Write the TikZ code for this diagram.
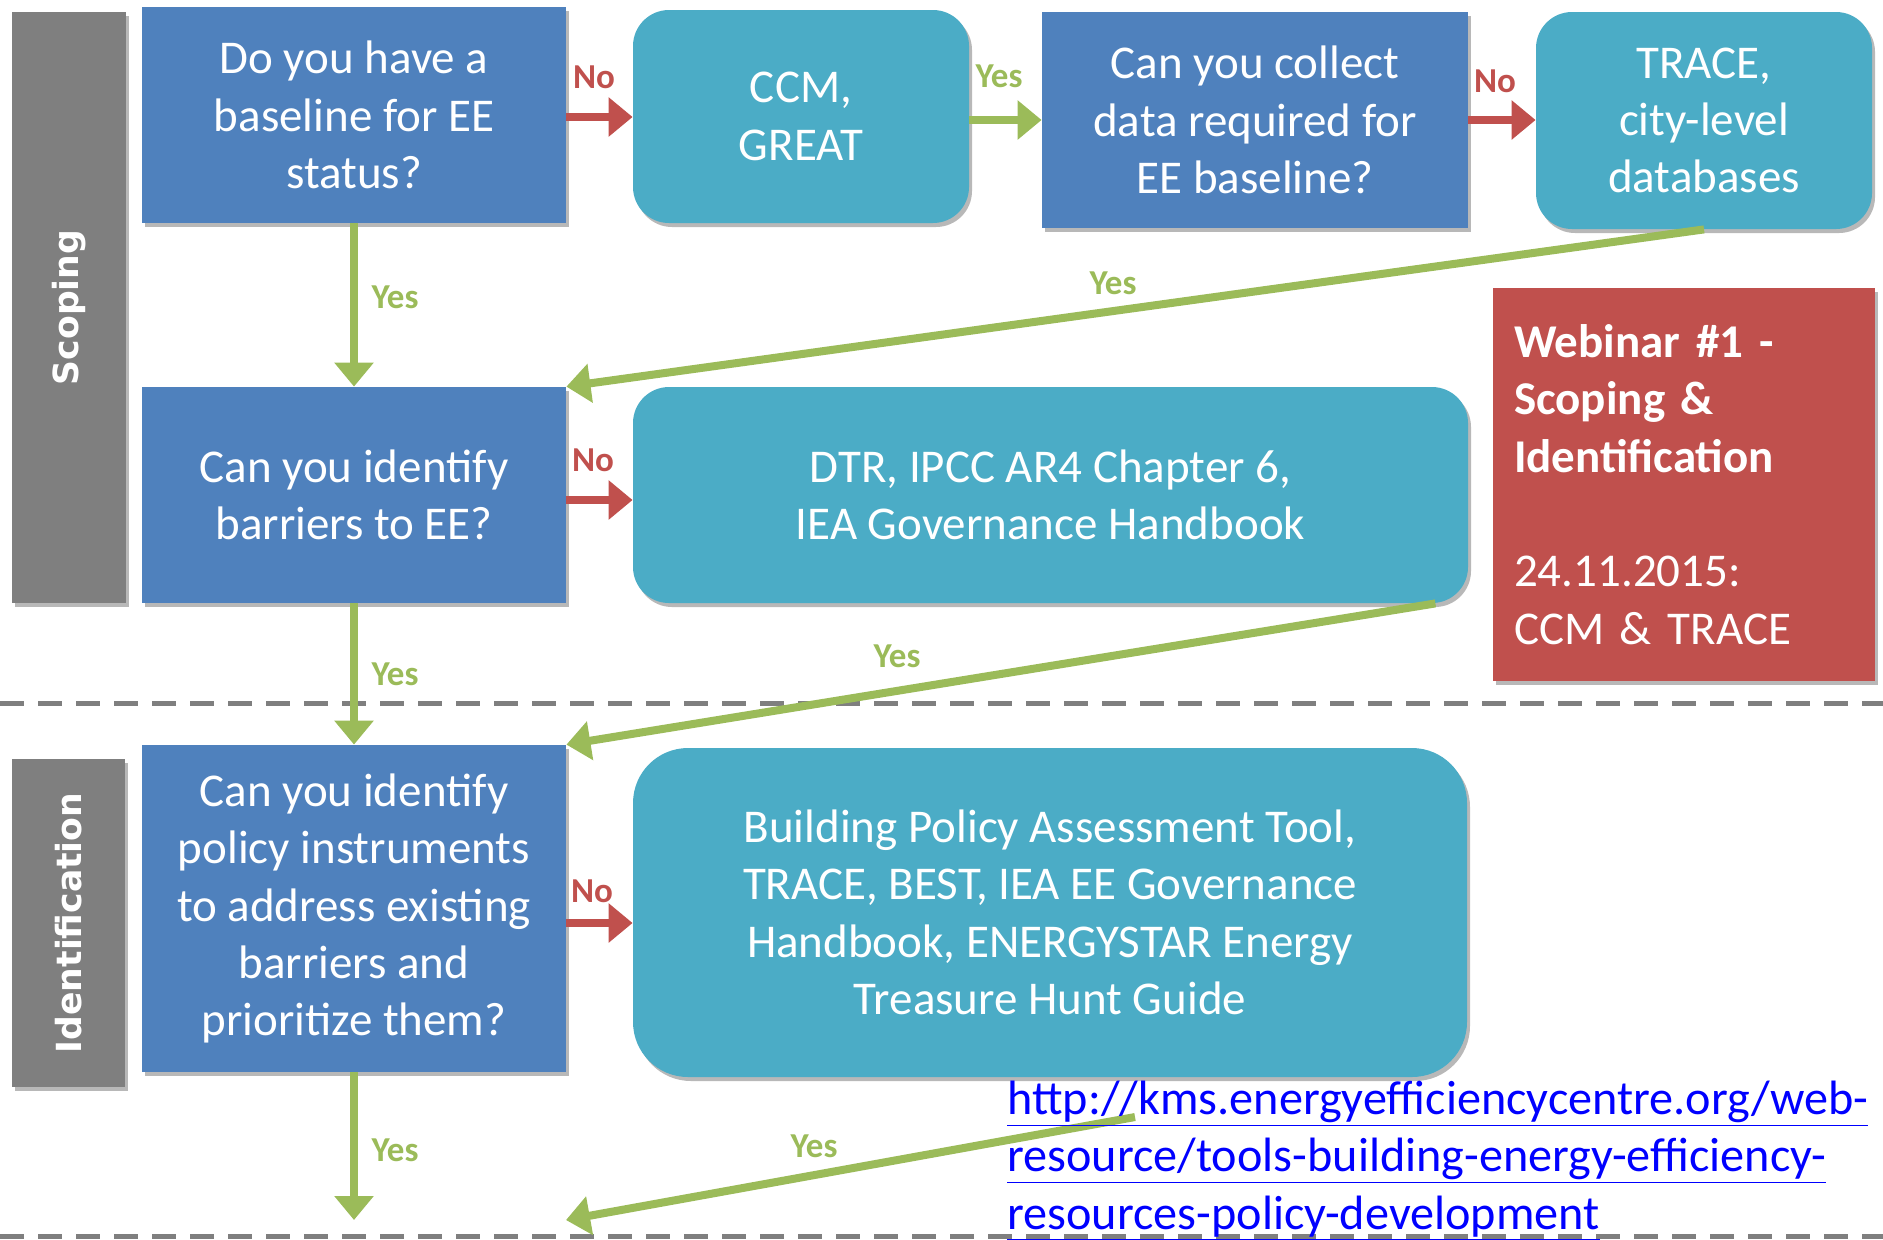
\documentclass[tikz,border=0pt]{standalone}
\usepackage{fontspec}
\setmainfont{Carlito}
\newfontfamily\dvs{DejaVu Sans}
\usetikzlibrary{arrows.meta,shadows}
\definecolor{cblue}{HTML}{4F81BD}
\definecolor{cteal}{HTML}{4BACC6}
\definecolor{cred}{HTML}{C0504D}
\definecolor{cgray}{HTML}{7F7F7F}
\definecolor{cgreen}{HTML}{9BBB59}
\definecolor{clink}{HTML}{0000FF}
\begin{document}
\begin{tikzpicture}[x=0.5pt,y=-0.5pt,
  mainfont/.style={font=\fontsize{23.5}{28.7}\selectfont},
  shd/.style={drop shadow={shadow xshift=1.5pt,shadow yshift=-2pt,opacity=0.28,fill=black}},
  qbox/.style={mainfont,shd,fill=cblue,text=white,align=center,inner sep=0pt},
  tbox/.style={mainfont,shd,fill=cteal,text=white,align=center,inner sep=0pt,rounded corners=18pt},
  phase/.style={fill=cgray,inner sep=0pt},
  phaselbl/.style={font=\dvs\bfseries\fontsize{17.3}{20}\selectfont,text=white,rotate=90,inner sep=0pt},
  lblno/.style={font=\bfseries\fontsize{17.5}{20}\selectfont,text=cred,inner sep=0pt},
  lblyes/.style={font=\bfseries\fontsize{17.5}{20}\selectfont,text=cgreen,inner sep=0pt},
  redarr/.style={draw=cred,line width=4pt,-{Triangle[width=19pt,length=12pt]}},
  grnarr/.style={draw=cgreen,line width=4pt,-{Triangle[width=19pt,length=12pt]}},
  sepline/.style={draw=cgray,line width=2.5pt,dash pattern=on 12pt off 7pt}
]
\useasboundingbox (0,0) rectangle (1883,1239);

% separators
\draw[sepline] (0,703) -- (1883,703);
\draw[sepline] (0,1236) -- (1883,1236);

% phase bars
\node[phase,shd,minimum width=57pt,minimum height=295.5pt] (scopbar) at (69,307.5) {};
\node[phaselbl] (scop) at (scopbar.center) {Scoping};
\node[phase,shd,minimum width=56.5pt,minimum height=164pt] (identbar) at (68.5,923) {};
\node[phaselbl] (ident) at (identbar.center) {Identification};

% question boxes
\node[qbox,minimum width=212pt,minimum height=108pt] (b1) at (354,115)
  {Do you have a\\ baseline for EE\\ status?};
\node[qbox,minimum width=213pt,minimum height=108pt] (b3) at (1255,120)
  {Can you collect\\ data required for\\ EE baseline?};
\node[qbox,minimum width=212pt,minimum height=108pt] (b2) at (354,495)
  {Can you identify\\ barriers to EE?};
\node[qbox,minimum width=212pt,minimum height=163.5pt] (b4) at (354,908.5)
  {Can you identify\\ policy instruments\\ to address existing\\ barriers and\\ prioritize them?};

% tool boxes
\node[tbox,minimum width=168pt,minimum height=106.5pt] (ccm) at (801,116.5)
  {CCM,\\ GREAT};
\node[tbox,minimum width=168pt,minimum height=108.5pt] (trace) at (1704,120.5)
  {TRACE,\\ city-level\\ databases};
\node[tbox,minimum width=417.5pt,minimum height=108pt] (dtr) at (1050.5,495)
  {DTR, IPCC AR4 Chapter 6,\\ IEA Governance Handbook};
\node[tbox,rounded corners=27.5pt,minimum width=417pt,minimum height=164.5pt] (bld) at (1050,912.5)
  {Building Policy Assessment Tool,\\ TRACE, BEST, IEA EE Governance\\ Handbook, ENERGYSTAR Energy\\ Treasure Hunt Guide};

% webinar box
\node[mainfont,shd,fill=cred,text=white,align=left,inner xsep=10.5pt,inner ysep=0pt,
      text width=170pt,minimum height=196.5pt] (web) at (1684,484.5)
  {\textbf{Webinar \#1 -}\\ \textbf{Scoping \&}\\ \textbf{Identification}\\[28.7pt] 24.11.2015:\\ CCM \& TRACE};

% red arrows
\draw[redarr] (b1.east |- 0,117) -- (ccm.west |- 0,117);
\draw[redarr] (b3.east |- 0,120) -- (trace.west |- 0,120);
\draw[redarr] (b2.east |- 0,500) -- (dtr.west |- 0,500);
\draw[redarr] (b4.east |- 0,923) -- (bld.west |- 0,923);

% green arrows
\draw[grnarr] (ccm.east |- 0,120) -- (b3.west |- 0,120);
\draw[grnarr] (b1.south) -- (b2.north);
\draw[grnarr] (b2.south) -- (b4.north);
\draw[grnarr] (trace.south) -- (b2.north east);
\draw[grnarr] ([xshift=-16.5pt]dtr.south east) -- (b4.north east);
\coordinate (bstart) at (1135,1117);
\coordinate (bend) at (566,1220);
\draw[grnarr] (b4.south) -- (b4.south |- bend);
\draw[grnarr] (bstart) -- (bend);

% labels
\node[lblno] (n1) at (594,77) {No};
\node[lblno] (n2) at (1495,81) {No};
\node[lblno] (n3) at (593,460) {No};
\node[lblno] (n4) at (592,891) {No};
\node[lblyes] (y1) at (999,76) {Yes};
\node[lblyes] (y2) at (395,297) {Yes};
\node[lblyes] (y3) at (1113,283) {Yes};
\node[lblyes] (y4) at (395,674) {Yes};
\node[lblyes] (y5) at (897,656) {Yes};
\node[lblyes] (y6) at (395,1150) {Yes};
\node[lblyes] (y7) at (814,1146) {Yes};

% url
\node[font=\fontsize{24.1}{28.7}\selectfont,text=clink,align=left,inner sep=0pt,anchor=base west] (url) at (1007,1229)
  {\underline{http://kms.energyefficiencycentre.org/web-}\\
   \underline{resource/tools-building-energy-efficiency-}\\
   \underline{resources-policy-development}};
\end{tikzpicture}
\end{document}
